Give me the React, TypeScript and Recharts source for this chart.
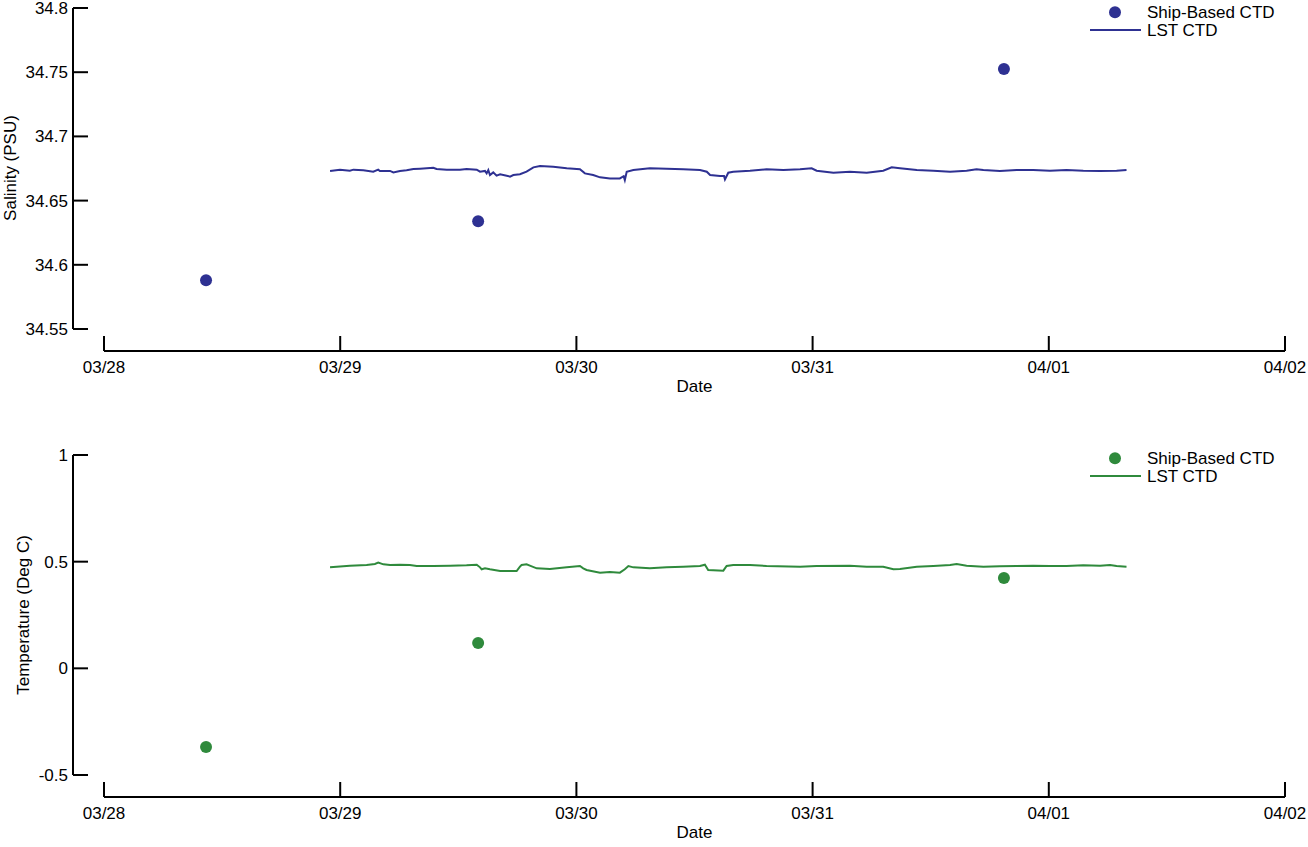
import React from 'react';
import { ComposedChart, Line, Scatter, XAxis, YAxis, ReferenceLine, Legend, Label } from 'recharts';

// ---------- data ----------
// x values are days since 03/28 00:00
const dateTicks = [0, 1, 2, 3, 4, 5];
const dateTickLabels = ['03/28', '03/29', '03/30', '03/31', '04/01', '04/02'];

const salinityTicks = [34.55, 34.6, 34.65, 34.7, 34.75, 34.8];
const salinityTickLabels = ['34.55', '34.6', '34.65', '34.7', '34.75', '34.8'];

const tempTicks = [-0.5, 0, 0.5, 1];
const tempTickLabels = ['-0.5', '0', '0.5', '1'];

const shipDays = [0.432, 1.584, 3.81];
const shipSalinity = [34.588, 34.634, 34.7525];
const shipTemperature = [-0.369, 0.119, 0.423];

const lstSalinity: [number, number][] = [
  [0.957, 34.6731], [0.999, 34.6741], [1.041, 34.6733], [1.056, 34.6741], [1.098, 34.6736],
  [1.14, 34.6725], [1.161, 34.6741], [1.168, 34.6731], [1.211, 34.6731], [1.225, 34.672],
  [1.253, 34.6731], [1.281, 34.6736], [1.31, 34.6746], [1.338, 34.6749], [1.394, 34.6756],
  [1.408, 34.6746], [1.451, 34.6741], [1.507, 34.6741], [1.535, 34.6746], [1.578, 34.6741],
  [1.592, 34.6725], [1.613, 34.6731], [1.62, 34.6712], [1.627, 34.6738], [1.634, 34.6699],
  [1.648, 34.672], [1.662, 34.6694], [1.677, 34.6705], [1.705, 34.6694], [1.719, 34.6687],
  [1.733, 34.6699], [1.761, 34.6705],
  [1.789, 34.6725], [1.818, 34.6759], [1.846, 34.6769], [1.902, 34.6764], [1.959, 34.6752],
  [2.015, 34.6744], [2.036, 34.6712], [2.071, 34.6699], [2.1, 34.6681], [2.142, 34.6673],
  [2.184, 34.6673], [2.2, 34.669], [2.205, 34.666], [2.213, 34.6725], [2.241, 34.6738],
  [2.311, 34.6752], [2.382, 34.6748], [2.452, 34.6744], [2.523, 34.6738], [2.552, 34.6725],
  [2.566, 34.6699], [2.608, 34.6692], [2.625, 34.6692], [2.629, 34.6665], [2.643, 34.6717],
  [2.664, 34.6725], [2.735, 34.6733], [2.805, 34.6744], [2.876, 34.6738], [2.947, 34.6744],
  [2.996, 34.6752], [3.017, 34.6733], [3.088, 34.6717], [3.158, 34.6725], [3.229, 34.6717],
  [3.299, 34.6733], [3.335, 34.6759], [3.37, 34.6752], [3.441, 34.6738], [3.511, 34.6733],
  [3.582, 34.6725], [3.652, 34.6733], [3.694, 34.6744], [3.723, 34.6738], [3.793, 34.6731],
  [3.864, 34.6738], [3.934, 34.6738], [4.005, 34.6733], [4.075, 34.6738], [4.146, 34.6733],
  [4.217, 34.6731], [4.287, 34.6733], [4.329, 34.6738],
];

const lstTemperature: [number, number][] = [
  [0.957, 0.4734], [1.041, 0.4813], [1.112, 0.4844], [1.147, 0.4891], [1.161, 0.4953],
  [1.183, 0.4875], [1.211, 0.4844], [1.253, 0.4859], [1.295, 0.4844], [1.324, 0.4797],
  [1.394, 0.4797], [1.465, 0.4813], [1.535, 0.4828], [1.578, 0.4859], [1.592, 0.4734],
  [1.599, 0.4641], [1.613, 0.4688], [1.634, 0.4641], [1.677, 0.4563], [1.747, 0.4563],
  [1.761, 0.4766], [1.768, 0.4844], [1.789, 0.4875], [1.803, 0.4813], [1.832, 0.4688],
  [1.888, 0.4656], [1.959, 0.4734], [2.015, 0.4797], [2.029, 0.4688], [2.043, 0.4609],
  [2.1, 0.4484], [2.142, 0.4516], [2.184, 0.4484], [2.205, 0.4641], [2.22, 0.4797],
  [2.241, 0.4734], [2.311, 0.4688], [2.382, 0.4734], [2.452, 0.4766], [2.523, 0.4797],
  [2.544, 0.4859], [2.558, 0.4609], [2.622, 0.4578], [2.636, 0.4797], [2.664, 0.4844],
  [2.735, 0.4844], [2.805, 0.4797], [2.947, 0.4766], [3.017, 0.4797], [3.158, 0.4813],
  [3.229, 0.4766], [3.299, 0.4766], [3.342, 0.4641], [3.37, 0.4656], [3.441, 0.4766],
  [3.511, 0.4797], [3.582, 0.4844], [3.61, 0.4891], [3.652, 0.4813], [3.723, 0.4766],
  [3.793, 0.4781], [3.864, 0.4797], [3.934, 0.4813], [4.005, 0.4797], [4.075, 0.4797],
  [4.146, 0.4828], [4.217, 0.4813], [4.259, 0.4844], [4.287, 0.4797], [4.329, 0.4766],
];

// ---------- style ----------
const FONT = '"Liberation Sans", Arial, Helvetica, sans-serif';
const FS = 17;
const BLUE = '#2e3192';
const GREEN = '#2f8a3c';
const X_MIN = -0.13125;
const X_MAX = 5;
const SAL_DOMAIN: [number, number] = [34.53287, 34.8];
const TEMP_DOMAIN: [number, number] = [-0.6031, 1];

const toPts = (arr: [number, number][]) => arr.map(([x, y]) => ({ x, y }));
const shipSalData = shipDays.map((x, i) => ({ x, y: shipSalinity[i] }));
const shipTempData = shipDays.map((x, i) => ({ x, y: shipTemperature[i] }));

const XTick = (props: any) => {
  const { x, y, payload, labels, values } = props;
  const i = values.indexOf(payload.value);
  return (
    <g>
      <line x1={x} y1={y} x2={x} y2={y - 15} stroke="#000" strokeWidth={2} />
      <text x={x} y={y + 22} textAnchor="middle" fontSize={FS} fontFamily={FONT} fill="#000">
        {i >= 0 ? labels[i] : String(payload.value)}
      </text>
    </g>
  );
};

const YTick = (props: any) => {
  const { x, y, payload, labels, values } = props;
  const i = values.indexOf(payload.value);
  return (
    <g>
      <line x1={x} y1={y} x2={x + 15} y2={y} stroke="#000" strokeWidth={2} />
      <text x={x - 5} y={y + 6} textAnchor="end" fontSize={FS} fontFamily={FONT} fill="#000">
        {i >= 0 ? labels[i] : String(payload.value)}
      </text>
    </g>
  );
};

const Dot = (color: string) => (p: any) => <circle cx={p.cx} cy={p.cy} r={6} fill={color} />;

const LegendBox = ({ color }: { color: string }) => (
  <svg width={220} height={42} style={{ display: 'block' }}>
    <circle cx={27} cy={12.3} r={6} fill={color} />
    <text x={59} y={18.3} fontSize={FS} fontFamily={FONT} fill="#000">Ship-Based CTD</text>
    <line x1={2} y1={30} x2={53} y2={30} stroke={color} strokeWidth={2} />
    <text x={59} y={36} fontSize={FS} fontFamily={FONT} fill="#000">LST CTD</text>
  </svg>
);

const YTitle = (text: string, cx: number, cy: number) => () => (
  <text
    x={cx}
    y={cy}
    transform={`rotate(-90 ${cx} ${cy})`}
    textAnchor="middle"
    dy="0.36em"
    fontSize={FS}
    fontFamily={FONT}
    fill="#000"
  >
    {text}
  </text>
);

interface PanelProps {
  top: number;
  height: number;
  marginTop: number;
  xAxisHeight: number;
  domain: [number, number];
  ticks: number[];
  tickLabels: string[];
  axisLow: number;
  axisHigh: number;
  color: string;
  line: [number, number][];
  ship: { x: number; y: number }[];
  title: string;
  titleX: number;
  titleY: number;
  legendTop: number;
}

const Panel = (p: PanelProps) => (
  <div style={{ position: 'absolute', left: 0, top: p.top, width: 1308, height: p.height }}>
    <ComposedChart width={1308} height={p.height} margin={{ top: p.marginTop, right: 23, bottom: 0, left: 0 }}>
      <XAxis
        type="number"
        dataKey="x"
        domain={[X_MIN, X_MAX]}
        allowDataOverflow
        ticks={dateTicks}
        interval={0}
        tickSize={0}
        tickMargin={0}
        axisLine={false}
        tickLine={false}
        height={p.xAxisHeight}
        tick={<XTick labels={dateTickLabels} values={dateTicks} />}
      >
        <Label
          content={() => (
            <text
              x={694.5}
              y={p.height - p.xAxisHeight + 41}
              textAnchor="middle"
              fontSize={FS}
              fontFamily={FONT}
              fill="#000"
            >
              Date
            </text>
          )}
        />
      </XAxis>
      <YAxis
        type="number"
        dataKey="y"
        domain={p.domain}
        allowDataOverflow
        ticks={p.ticks}
        interval={0}
        tickSize={0}
        tickMargin={0}
        axisLine={false}
        tickLine={false}
        width={73}
        tick={<YTick labels={p.tickLabels} values={p.ticks} />}
      >
        <Label content={YTitle(p.title, p.titleX, p.titleY)} />
      </YAxis>
      <ReferenceLine
        segment={[{ x: X_MIN, y: p.axisLow }, { x: X_MIN, y: p.axisHigh }]}
        stroke="#000"
        strokeWidth={2}
        ifOverflow="visible"
      />
      <ReferenceLine
        segment={[{ x: 0, y: p.domain[0] }, { x: 5, y: p.domain[0] }]}
        stroke="#000"
        strokeWidth={2}
        ifOverflow="visible"
      />
      <Line
        data={toPts(p.line)}
        dataKey="y"
        type="linear"
        stroke={p.color}
        strokeWidth={2}
        dot={false}
        activeDot={false}
        isAnimationActive={false}
      />
      <Scatter data={p.ship} dataKey="y" fill={p.color} shape={Dot(p.color)} isAnimationActive={false} />
      <Legend
        layout="vertical"
        align="center"
        verticalAlign="middle"
        wrapperStyle={{ position: 'absolute', left: 1088, top: p.legendTop, width: 220, height: 42 }}
        content={() => <LegendBox color={p.color} />}
      />
    </ComposedChart>
  </div>
);

export default function App() {
  return (
    <div style={{ position: 'absolute', left: 0, top: 0, width: 1308, height: 847, background: '#fff' }}>
      <Panel
        top={0}
        height={420}
        marginTop={8}
        xAxisHeight={69}
        domain={SAL_DOMAIN}
        ticks={salinityTicks}
        tickLabels={salinityTickLabels}
        axisLow={34.55}
        axisHigh={34.8}
        color={BLUE}
        line={lstSalinity}
        ship={shipSalData}
        title="Salinity (PSU)"
        titleX={9.5}
        titleY={168}
        legendTop={0}
      />
      <Panel
        top={420}
        height={427}
        marginTop={35}
        xAxisHeight={50}
        domain={TEMP_DOMAIN}
        ticks={tempTicks}
        tickLabels={tempTickLabels}
        axisLow={-0.5}
        axisHigh={1}
        color={GREEN}
        line={lstTemperature}
        ship={shipTempData}
        title="Temperature (Deg C)"
        titleX={23}
        titleY={195}
        legendTop={26}
      />
    </div>
  );
}
